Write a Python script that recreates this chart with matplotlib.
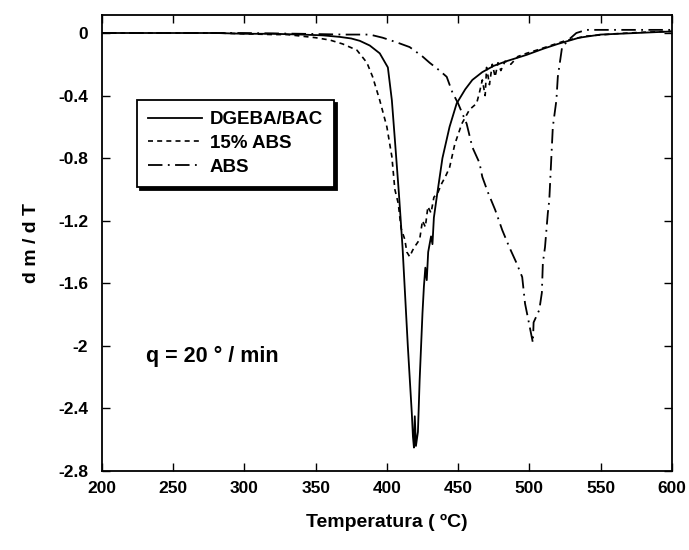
"""DTG curves (dm/dT) for DGEBA/BAC, 15% ABS blend and pure ABS at q = 20 deg/min."""

import matplotlib.pyplot as plt
from matplotlib.ticker import FormatStrFormatter


# DGEBA/BAC (solid)
temp_dgeba = [200, 240, 280, 300, 320, 340, 355, 367, 375, 381, 388, 395, 400.7,
              403.5, 405.6, 408.4, 411, 414.7, 416, 417.5, 418.3, 419, 419.6,
              420.4, 421.8, 423, 425, 426, 427, 428, 429, 431, 432, 433, 435,
              439, 444, 449, 455, 460, 467, 475, 484, 498, 510, 520, 535, 550,
              575, 600]
dmdt_dgeba = [0, 0, 0, -0.005, -0.005, -0.01, -0.015, -0.025, -0.035, -0.05,
              -0.08, -0.13, -0.22, -0.43, -0.68, -1.02, -1.37, -2.0, -2.2, -2.43,
              -2.58, -2.65, -2.45, -2.64, -2.55, -2.22, -1.79, -1.62, -1.50,
              -1.58, -1.40, -1.30, -1.35, -1.18, -1.05, -0.80, -0.60, -0.45,
              -0.36, -0.30, -0.25, -0.21, -0.18, -0.14, -0.10, -0.07, -0.03,
              -0.01, 0.0, 0.01]

# 15% ABS (dashed)
temp_blend = [200, 240, 280, 300, 320, 330, 340, 350, 360, 369, 379, 386, 390,
              395, 400, 403.5, 405.6, 408, 410, 412.6, 414, 416, 418, 420, 423,
              425, 427, 428.8, 431, 433, 435.8, 438.6, 441, 444, 447.7, 452.6,
              458, 463, 465, 467, 469, 470, 472, 474, 476, 478, 480, 483, 487,
              492, 498, 505, 515, 525, 540, 560, 580, 600]
dmdt_blend = [0, 0, 0, -0.005, -0.01, -0.01, -0.02, -0.03, -0.045, -0.07, -0.11,
              -0.19, -0.28, -0.43, -0.60, -0.79, -1.0, -1.09, -1.25, -1.32,
              -1.40, -1.43, -1.39, -1.36, -1.32, -1.20, -1.24, -1.11, -1.15,
              -1.05, -1.02, -0.96, -0.92, -0.86, -0.71, -0.58, -0.49, -0.45,
              -0.38, -0.30, -0.40, -0.22, -0.33, -0.20, -0.28, -0.19, -0.24,
              -0.18, -0.20, -0.15, -0.13, -0.11, -0.08, -0.05, -0.02, -0.005,
              0.005, 0.01]

# ABS (dash-dot)
temp_abs = [200, 250, 300, 340, 370, 388, 397, 407, 416, 425, 430, 437, 442,
            446, 450, 456, 460, 465, 467, 471, 476, 481, 486, 491, 495, 497,
            499, 502.5, 503, 507, 508.8, 509.5, 511, 513, 514, 516.5, 519, 520,
            523, 528, 533, 540, 555, 570, 585, 600]
dmdt_abs = [0, 0, 0, -0.005, -0.01, -0.01, -0.03, -0.06, -0.09, -0.15, -0.19,
            -0.24, -0.28, -0.38, -0.45, -0.58, -0.73, -0.83, -0.92, -1.02, -1.13,
            -1.26, -1.37, -1.47, -1.56, -1.73, -1.82, -1.98, -1.85, -1.77, -1.66,
            -1.47, -1.37, -1.15, -1.07, -0.60, -0.43, -0.28, -0.09, -0.04, 0.0,
            0.02, 0.02, 0.02, 0.02, 0.02]

x_ticks = [200, 250, 300, 350, 400, 450, 500, 550, 600]
y_ticks = [0, -0.4, -0.8, -1.2, -1.6, -2, -2.4, -2.8]


def main():
    plt.rcParams["font.family"] = ["Liberation Sans", "DejaVu Sans"]
    plt.rcParams["font.weight"] = "bold"

    fig = plt.figure(figsize=(6.89, 5.5), dpi=100)
    ax = fig.add_axes([0.148, 0.1436, 0.827, 0.8291])

    ax.plot(temp_dgeba, dmdt_dgeba, color="black", linewidth=1.3,
            label="DGEBA/BAC")
    ax.plot(temp_blend, dmdt_blend, color="black", linewidth=1.2,
            linestyle=(0, (3, 2.5)), label="15% ABS")
    ax.plot(temp_abs, dmdt_abs, color="black", linewidth=1.3,
            linestyle=(0, (8, 3, 1, 3)), label="ABS")

    ax.set_xlim(200, 600)
    ax.set_ylim(-2.8, 0.115)
    ax.set_xticks(x_ticks)
    ax.set_yticks(y_ticks)
    ax.yaxis.set_major_formatter(FormatStrFormatter("%g"))
    ax.tick_params(direction="in", top=True, right=True, length=6,
                   width=1.0, labelsize=12.5)
    ax.tick_params(axis="x", pad=7)
    ax.tick_params(axis="y", pad=10)
    for spine in ax.spines.values():
        spine.set_linewidth(1.3)

    ax.set_xlabel("Temperatura ( \u00baC)", fontsize=14, fontweight="bold",
                  labelpad=13)
    ax.set_ylabel("d m / d T", fontsize=14, fontweight="bold", labelpad=13)

    ax.text(231, -2.07, "q = 20 \u00b0 / min", fontsize=15.5,
            fontweight="bold", va="center", ha="left")

    legend = ax.legend(loc="upper left", bbox_to_anchor=(0.061, 0.814),
                       borderaxespad=0, fancybox=False,
                       shadow={"color": "black", "alpha": 1.0},
                       edgecolor="black", framealpha=1, handlelength=2.9,
                       handletextpad=0.4, fontsize=13.5, labelspacing=0.35,
                       borderpad=0.6)
    legend.get_frame().set_linewidth(1.3)

    fig.savefig("out.png", dpi=100)
    plt.close(fig)


if __name__ == "__main__":
    main()
